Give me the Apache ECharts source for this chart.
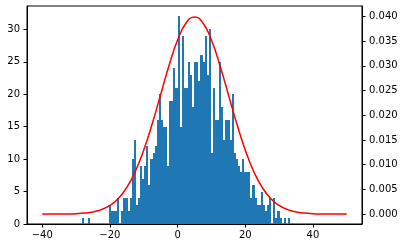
<!DOCTYPE html>
<html><head><meta charset="utf-8">
<script src="https://cdn.jsdelivr.net/npm/echarts@6/dist/echarts.min.js"></script>
<style>html,body{margin:0;padding:0;background:#fff}#c{width:404px;height:248px}</style>
</head><body><div id="c"></div>
<script>
// histogram bins
const binStart = -28.3;
const binWidth = 0.615;
const counts = [
  1,0,0,1,0,0,0,0,0,0,0,0,0,
  3,2,2,2,4,0,2,4,4,2,
  4,10,13,3,4,9,7,9,12,6,
  10,11,12,16,20,16,15,15,9,19,
  19,24,21,32,15,29,21,21,25,23,
  18,25,25,22,26,25,29,23,30,11,
  21,16,16,25,18,13,16,16,13,20,
  11,10,9,8,10,8,8,8,4,6,
  4,3,3,5,3,2,3,4,0,4,
  1,2,1,0,1,0,1
];
// red density curve
const curveX = [-40,-37.5,-35,-32.5,-30,-27.5,-25,-22.5,-20,-17.5,-15,-12.5,-10,-7.5,-5,-2.5,0,2.5,5,7.5,10,12.5,15,17.5,20,22.5,25,27.5,30,32.5,35,37.5,40,42.5,45,47.5,50];
const curveY = [0.0000016,0.0000048,0.0000134,0.0000353,0.0000873,0.000203,0.000443,0.000909,0.001753,0.003174,0.005399,0.008628,0.012952,0.018265,0.024197,0.030114,0.035207,0.038667,0.039894,0.038667,0.035207,0.030114,0.024197,0.018265,0.012952,0.008628,0.005399,0.003174,0.001753,0.000909,0.000443,0.000203,0.0000873,0.0000353,0.0000134,0.0000048,0.0000016];
// ticks
const xTicks = [-40,-20,0,20,40];
const yRightTicks = [0,0.005,0.010,0.015,0.020,0.025,0.030,0.035,0.040];

const histData = counts.map((c,i)=>[binStart+i*binWidth, binStart+(i+1)*binWidth, c]);
const lineData = curveX.map((x,i)=>[x, curveY[i]]);

const font = 'DejaVu Sans';
const chart = echarts.init(document.getElementById('c'), null, {renderer:'canvas'});
chart.setOption({
  animation:false,
  backgroundColor:'#fff',
  grid:{left:27,right:42,top:6,bottom:24,show:true,borderColor:'#000',borderWidth:1,backgroundColor:'transparent'},
  xAxis:{
    type:'value',min:-44.5,max:54.5,
    splitLine:{show:false},
    axisLine:{show:true,onZero:false,lineStyle:{color:'#000',width:1}},
    axisTick:{show:true,customValues:xTicks,length:3.5,lineStyle:{color:'#000',width:1}},
    axisLabel:{customValues:xTicks,color:'#000',fontSize:10,fontFamily:font,margin:6,
      formatter:v=>String(v).replace('-','\u2212')}
  },
  yAxis:[{
    type:'value',min:0,max:33.6,interval:5,position:'left',
    splitLine:{show:false},
    axisLine:{show:true,onZero:false,lineStyle:{color:'#000',width:1}},
    axisTick:{show:true,length:3.5,lineStyle:{color:'#000',width:1}},
    axisLabel:{color:'#000',fontSize:10,fontFamily:font,margin:7,showMaxLabel:false,
      formatter:v=>(v>32?'':String(v))}
  },{
    type:'value',min:-0.002,max:0.0421,position:'right',
    splitLine:{show:false},
    axisLine:{show:true,onZero:false,lineStyle:{color:'#000',width:1}},
    axisTick:{show:true,customValues:yRightTicks,length:3.5,lineStyle:{color:'#000',width:1}},
    axisLabel:{customValues:yRightTicks,color:'#000',fontSize:10,fontFamily:font,margin:7,
      formatter:v=>v.toFixed(3)}
  }],
  series:[{
    type:'custom',
    xAxisIndex:0,yAxisIndex:0,
    data:histData,
    encode:{x:[0,1],y:2},
    renderItem:function(params,api){
      const p0 = api.coord([api.value(0),0]);
      const p1 = api.coord([api.value(1),api.value(2)]);
      const xa = Math.round(p0[0]), xb = Math.round(p1[0]);
      const yb = Math.round(p0[1]), yt = Math.round(p1[1]);
      return {type:'rect',shape:{x:xa,y:yt,width:xb-xa,height:yb-yt},
        style:{fill:'#1f77b4',stroke:null,opacity:1}};
    },
    z:2
  },{
    type:'line',
    xAxisIndex:0,yAxisIndex:1,
    data:lineData,
    smooth:true,
    showSymbol:false,
    symbol:'none',
    lineStyle:{color:'#ff0000',width:1.5},
    z:3
  }]
});
</script>
</body></html>
